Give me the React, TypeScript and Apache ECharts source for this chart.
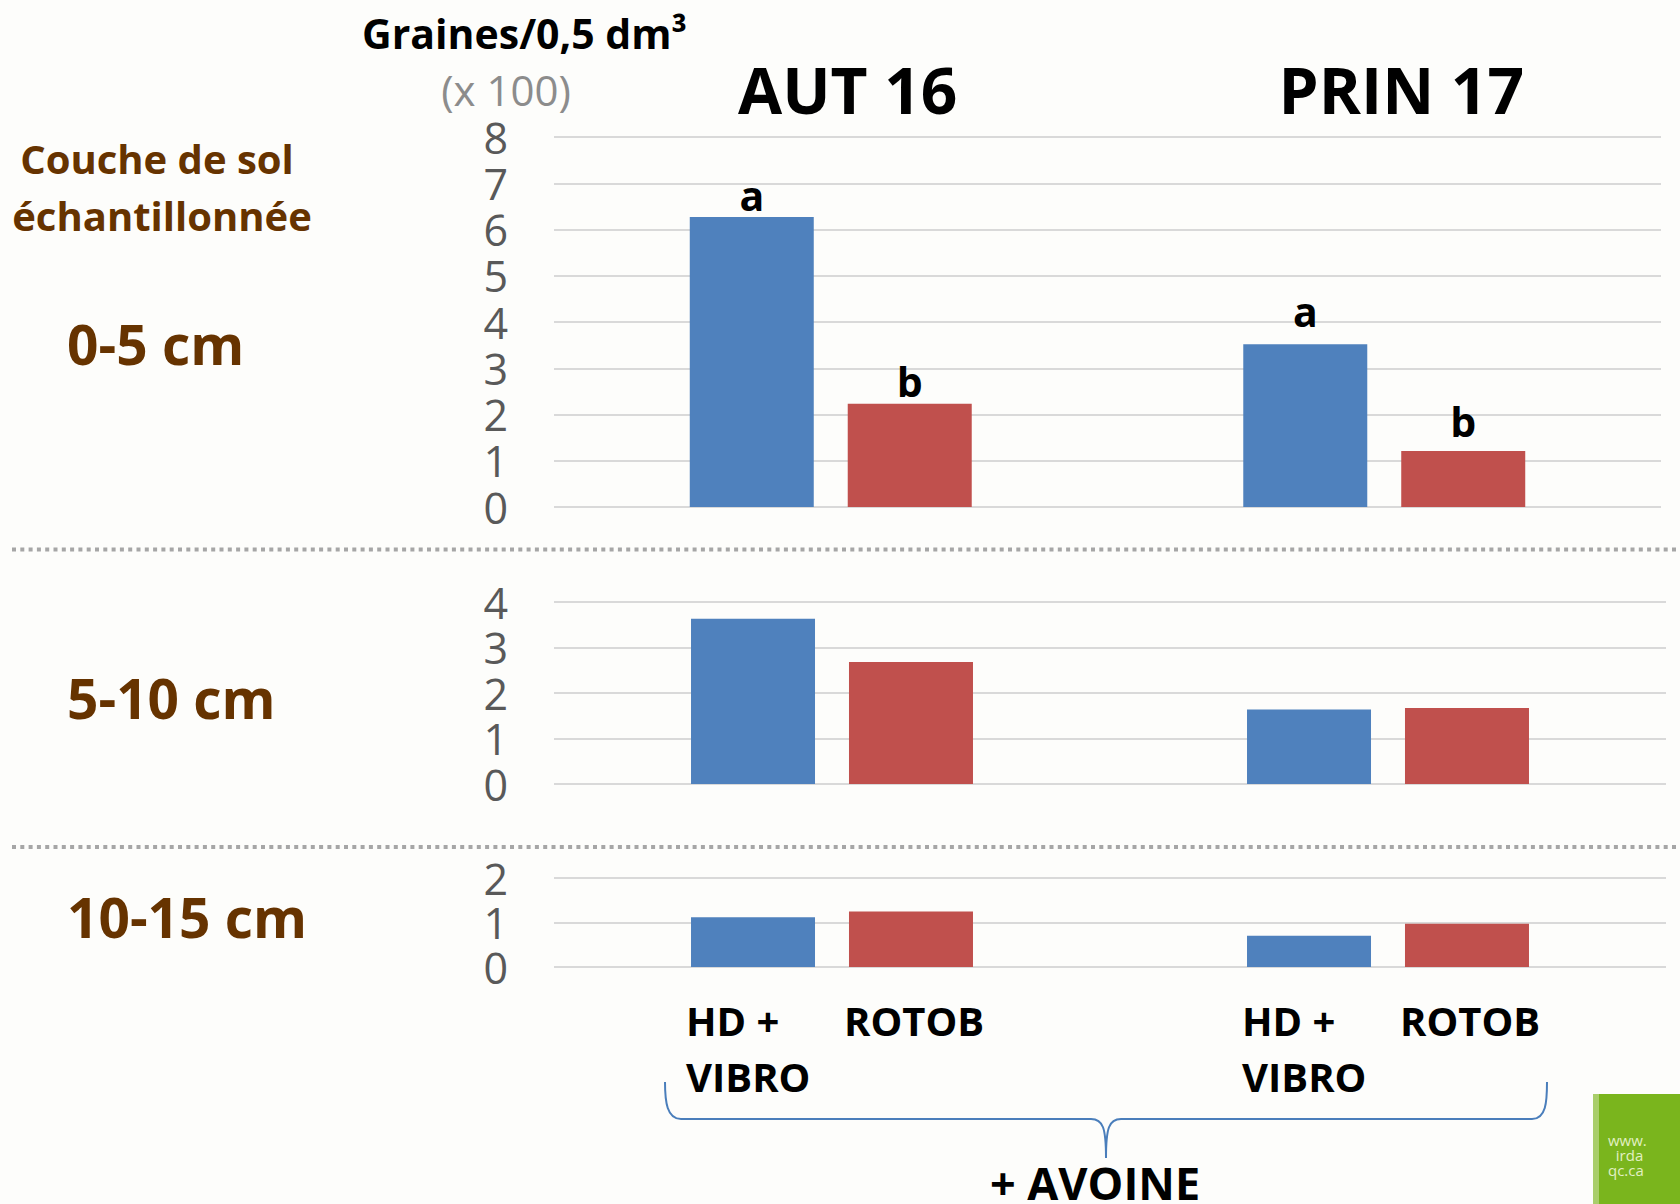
import React, { useEffect, useRef } from "react";
import * as echarts from "echarts";

// ---- Data ----
const categories = ["AUT 16", "PRIN 17"];
const treatmentNames = ["HD +\nVIBRO", "ROTOB"];

// Graines / 0,5 dm3 (x 100) per soil layer
const layer0_5_HD = [6.27, 3.52];
const layer0_5_ROTOB = [2.23, 1.21];
const layer5_10_HD = [3.63, 1.64];
const layer5_10_ROTOB = [2.68, 1.67];
const layer10_15_HD = [1.12, 0.7];
const layer10_15_ROTOB = [1.25, 0.97];

const letters0_5_HD = ["a", "a"];
const letters0_5_ROTOB = ["b", "b"];

const layerNames = ["0-5 cm", "5-10 cm", "10-15 cm"];
const layerMax = [8, 4, 2];

// ---- Styles ----
const FONT = "'Open Sans', 'Noto Sans', sans-serif";
const BLUE = "#4F81BD";
const RED = "#C0504D";
const BROWN = "#663300";
const GRID = "#D9D9D9";
const TICK = "#595959";
const letterDistHD = [2, 13];
const letterDistROTOB = [2, 10];

const BRACE_D =
  "M665,1082 C665,1102 667,1119 681,1119 L1091,1119 C1103,1119 1106,1128 1106,1158 C1106,1128 1109,1119 1121,1119 L1532,1119 C1546,1119 1547,1102 1547,1082";

let braceRegistered = false;

export default function App() {
  const ref = useRef<HTMLDivElement>(null);

  useEffect(() => {
    if (!ref.current) return;
    if (!braceRegistered) {
      echarts.graphic.registerShape("brace", echarts.graphic.extendPath(BRACE_D, {}));
      braceRegistered = true;
    }
    const chart = echarts.init(ref.current, null, { renderer: "svg" });

    const grids = [
      { left: 554, right: 19, top: 137, height: 370 },
      { left: 554, right: 14, top: 602, height: 182 },
      { left: 554, right: 14, top: 878, height: 89 },
    ];

    const xAxes = grids.map((_, i) => ({
      type: "category",
      gridIndex: i,
      data: categories,
      position: i === 0 ? "top" : "bottom",
      axisLine: { show: false },
      axisTick: { show: false },
      axisLabel:
        i === 0
          ? {
              show: true,
              fontFamily: FONT,
              fontWeight: "bold",
              fontSize: 64,
              color: "#000",
              margin: 16,
              padding: [0, 0, 0, 34],
            }
          : { show: false },
    }));

    const yAxes = grids.map((_, i) => ({
      type: "value",
      gridIndex: i,
      min: 0,
      max: layerMax[i],
      interval: 1,
      axisLine: { show: false },
      axisTick: { show: false },
      splitLine: { show: true, lineStyle: { color: GRID, width: 2 } },
      axisLabel: {
        fontFamily: FONT,
        fontSize: 43,
        lineHeight: 44,
        color: TICK,
        margin: 46,
      },
    }));

    const letterData = (vals: number[], letters: string[], dist: number[]) =>
      vals.map((v, k) => ({
        value: v,
        label: {
          show: true,
          position: "top",
          distance: dist[k],
          fontFamily: FONT,
          fontWeight: "bold",
          fontSize: 41,
          color: "#000",
          formatter: letters[k],
        },
      }));

    const treatLabel = (name: string) => ({
      show: true,
      position: "insideBottomLeft",
      distance: 0,
      align: "left",
      verticalAlign: "top",
      offset: [-5, 25],
      fontFamily: FONT,
      fontWeight: "bold",
      fontSize: 40,
      lineHeight: 56,
      color: "#000",
      formatter: () => name,
    });

    const mk = (i: number, name: string, data: any[], color: string, label?: any) => ({
      type: "bar",
      name,
      xAxisIndex: i,
      yAxisIndex: i,
      data,
      barWidth: 124,
      barGap: "27.4%",
      itemStyle: { color },
      label: label || { show: false },
      silent: true,
    });

    const series = [
      mk(0, treatmentNames[0], letterData(layer0_5_HD, letters0_5_HD, letterDistHD), BLUE),
      mk(0, treatmentNames[1], letterData(layer0_5_ROTOB, letters0_5_ROTOB, letterDistROTOB), RED),
      mk(1, treatmentNames[0], layer5_10_HD, BLUE),
      mk(1, treatmentNames[1], layer5_10_ROTOB, RED),
      mk(2, treatmentNames[0], layer10_15_HD, BLUE, treatLabel(treatmentNames[0])),
      mk(2, treatmentNames[1], layer10_15_ROTOB, RED, treatLabel(treatmentNames[1])),
    ];

    const layerY = [343, 697, 916];

    const graphic: any[] = [
      {
        type: "text",
        x: 362,
        y: 33,
        style: {
          text: "Graines/0,5 dm³",
          fontFamily: FONT,
          fontWeight: "bold",
          fontSize: 41,
          fill: "#000",
          align: "left",
          verticalAlign: "middle",
        },
      },
      {
        type: "text",
        x: 506,
        y: 89,
        style: {
          text: "(x 100)",
          fontFamily: FONT,
          fontSize: 42,
          fill: "#8C8C8C",
          align: "center",
          verticalAlign: "middle",
        },
      },
      {
        type: "text",
        x: 157,
        y: 158,
        style: {
          text: "Couche de sol",
          fontFamily: FONT,
          fontWeight: "bold",
          fontSize: 40,
          fill: BROWN,
          align: "center",
          verticalAlign: "middle",
        },
      },
      {
        type: "text",
        x: 162,
        y: 215,
        style: {
          text: "échantillonnée",
          fontFamily: FONT,
          fontWeight: "bold",
          fontSize: 40,
          fill: BROWN,
          align: "center",
          verticalAlign: "middle",
        },
      },
      ...layerNames.map((t, i) => ({
        type: "text",
        x: 67,
        y: layerY[i],
        style: {
          text: t,
          fontFamily: FONT,
          fontWeight: "bold",
          fontSize: 55,
          fill: BROWN,
          align: "left",
          verticalAlign: "middle",
        },
      })),
      ...[549.5, 847].map((y) => ({
        type: "line",
        shape: { x1: 12, y1: y, x2: 1680, y2: y },
        style: { stroke: "#A6A6A6", lineWidth: 4, lineDash: [4, 4.3] },
      })),
      {
        type: "brace",
        x: 0,
        y: 0,
        style: { fill: "none", stroke: "#4A7EBB", lineWidth: 2 },
      },
      {
        type: "text",
        x: 1095,
        y: 1182,
        style: {
          text: "+ AVOINE",
          fontFamily: FONT,
          fontWeight: "bold",
          fontSize: 45,
          fill: "#000",
          align: "center",
          verticalAlign: "middle",
        },
      },
      {
        type: "rect",
        shape: { x: 1593, y: 1094, width: 87, height: 110 },
        style: { fill: "#7AB51D" },
      },
      {
        type: "rect",
        shape: { x: 1593, y: 1094, width: 6, height: 110 },
        style: { fill: "#A9CE6A" },
      },
      {
        type: "text",
        x: 1608,
        y: 1155,
        style: {
          text: "www.\n  irda\nqc.ca",
          fontFamily: FONT,
          fontSize: 15,
          lineHeight: 15,
          fill: "#E2F0C4",
          align: "left",
          verticalAlign: "middle",
        },
      },
    ];

    chart.setOption({
      animation: false,
      backgroundColor: "#FDFDFB",
      grid: grids,
      xAxis: xAxes,
      yAxis: yAxes,
      series,
      graphic,
    });

    return () => chart.dispose();
  }, []);

  return (
    <div
      ref={ref}
      style={{ position: "absolute", left: 0, top: 0, width: 1680, height: 1204 }}
    />
  );
}
